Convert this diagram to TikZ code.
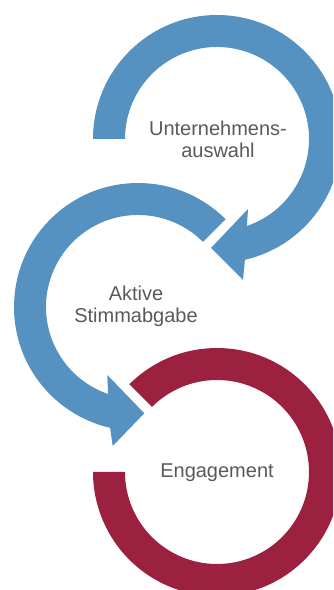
\documentclass[tikz,border=0pt]{standalone}
\usepackage{fontspec}
\setmainfont{Liberation Sans}
\usetikzlibrary{calc}
\definecolor{arrblue}{HTML}{5592C1}
\definecolor{ringred}{HTML}{9C2140}
\definecolor{txtgray}{HTML}{595959}
\begin{document}
\begin{tikzpicture}[x=1pt,y=1pt,
  lbl/.style={text=txtgray,align=center,font=\fontsize{20}{22}\selectfont,inner sep=0pt}]
\useasboundingbox (0,0) rectangle (333,590);
\clip (0,0) rectangle (333,590);
\coordinate (c1) at (217,451);
\coordinate (c2) at (138,283);
\coordinate (c3) at (217,118);
% top arrow
\fill[arrblue] ($(c1)+(180:124)$) arc[start angle=180,end angle=-77,radius=124]
  -- (243,310) -- (211,342) -- (248,381)
  -- ($(c1)+(-71:92)$) arc[start angle=-71,end angle=180,radius=92] -- cycle;
% middle arrow
\fill[arrblue] ($(c2)+(45:92)$) -- ($(c2)+(45:124)$)
  arc[start angle=45,end angle=257,radius=124]
  -- (112.7,144) -- (144.3,176.7) -- (107.3,215)
  -- ($(c2)+(251:92)$) arc[start angle=251,end angle=45,radius=92] -- cycle;
% red ring
\fill[ringred] ($(c3)+(135:124)$) arc[start angle=135,end angle=-180,radius=124]
  -- ($(c3)+(180:92)$) arc[start angle=-180,end angle=135,radius=92] -- cycle;
\node[lbl] (t1) at (218,451) {Unternehmens-\\auswahl};
\node[lbl] (t2) at (136,284) {Aktive\\Stimmabgabe};
\node[lbl] (t3) at (217,117) {Engagement};
\end{tikzpicture}
\end{document}
